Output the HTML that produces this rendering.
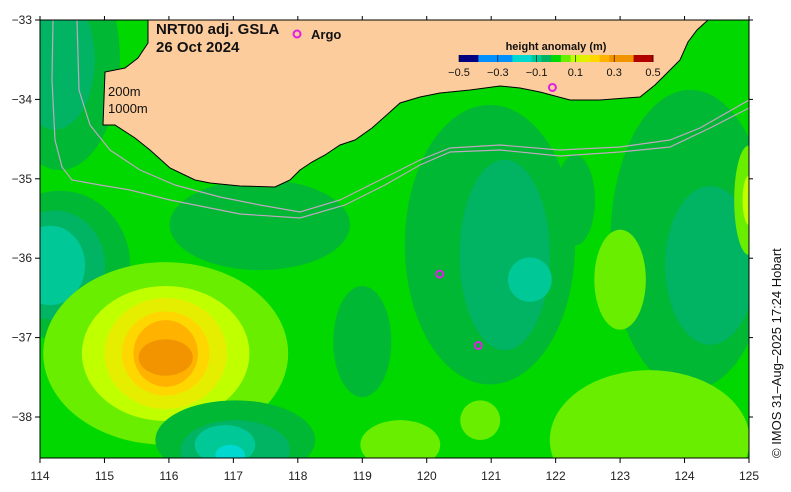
<!DOCTYPE html>
<html><head><meta charset="utf-8"><style>
body{margin:0;background:#fff;font-family:"Liberation Sans",sans-serif}
svg{display:block}
</style></head><body>
<svg id="map" width="791" height="492" viewBox="0 0 791 492">
<defs><clipPath id="clip"><rect x="40" y="20" width="709" height="438"/></clipPath></defs>
<g id="field" clip-path="url(#clip)"></g>
<g id="axes"></g>
</svg>
<script>
// data
const lonTicks=[114,115,116,117,118,119,120,121,122,123,124,125];
const latTicks=[-33,-34,-35,-36,-37,-38];
const blobLon=[114.31,114.23,117.41,114.31,114.23,114.16,120.98,122.3,121.21,121.6,124.09,124.4,125.0,125.0,123.0,123.46,120.83,119.0,119.59,115.95,115.95,115.95,115.95,115.95,115.95,117.03,117.03,116.87,116.95];
const blobLat=[-33.5,-33.5,-35.58,-36.09,-36.09,-36.09,-35.83,-35.27,-35.96,-36.27,-35.77,-36.09,-35.27,-35.27,-36.27,-38.29,-38.04,-37.05,-38.35,-37.2,-37.2,-37.2,-37.2,-37.2,-37.25,-38.29,-38.42,-38.35,-38.48];
const blobRx=[0.93,0.62,1.4,1.09,0.78,0.54,1.32,0.31,0.7,0.34,1.24,0.7,0.23,0.1,0.4,1.55,0.31,0.45,0.62,1.9,1.3,0.95,0.68,0.5,0.42,1.24,0.85,0.47,0.23];
const blobRy=[1.39,0.88,0.57,0.94,0.69,0.5,1.76,0.57,1.2,0.28,1.89,1.0,0.69,0.31,0.63,0.88,0.25,0.7,0.31,1.15,0.85,0.7,0.53,0.42,0.23,0.5,0.38,0.25,0.13];
const blobVal=[-0.025,-0.05,-0.025,-0.025,-0.05,-0.1,-0.025,-0.025,-0.05,-0.1,-0.025,-0.05,0.05,0.1,0.05,0.05,0.05,-0.025,0.05,0.05,0.1,0.15,0.2,0.25,0.3,-0.025,-0.05,-0.1,-0.15];
const argoLon=[120.2,120.8,121.95];
const argoLat=[-36.2,-37.1,-33.85];
const cbTicks=[-0.5,-0.3,-0.1,0.1,0.3,0.5];

const X0=40,X1=749,Y0=20,Y1=458;
const xS=l=>X0+(l-114)*(X1-X0)/11;
const yS=a=>Y0+(-33-a)*79.4;
const NS='http://www.w3.org/2000/svg';
function mk(t,a,p){const e=document.createElementNS(NS,t);for(const k in a)e.setAttribute(k,a[k]);p.appendChild(e);return e;}
function col(v){
 const stops=[[-0.5,'#000080'],[-0.3,'#0090ff'],[-0.15,'#00d8d0'],[-0.1,'#00c896'],[-0.05,'#00b464'],[-0.025,'#00b833'],[0,'#00d800'],[0.05,'#6aee00'],[0.1,'#c0ff00'],[0.15,'#e6ee00'],[0.2,'#ffd700'],[0.25,'#ffb300'],[0.3,'#f29400'],[0.5,'#b00000']];
 let best=stops[0];for(const s of stops){if(Math.abs(s[0]-v)<Math.abs(best[0]-v))best=s;}return best[1];}
function cbcol(v){
 const stops=[[-0.5,'#000080'],[-0.3,'#0090ff'],[-0.15,'#00d8d0'],[-0.1,'#00c896'],[-0.05,'#00b464'],[0,'#00d800'],[0.05,'#6aee00'],[0.1,'#c0ff00'],[0.15,'#e6ee00'],[0.2,'#ffd700'],[0.25,'#ffb300'],[0.3,'#f29400'],[0.5,'#b00000']];
 let best=stops[0];for(const s of stops){if(Math.abs(s[0]-v)<Math.abs(best[0]-v))best=s;}return best[1];}
const F=document.getElementById('field');
let r=mk('rect',{x:X0,y:Y0,width:X1-X0,height:Y1-Y0,fill:'#00d800'},F);

blobVal.forEach((v,i)=>{
 const e=mk('ellipse',{cx:xS(blobLon[i]),cy:yS(blobLat[i]),rx:blobRx[i]*64.45,ry:blobRy[i]*79.4,fill:col(v)},F);
 
 
});
// land
const land=mk('path',{d:'M148,20 L148,43 L138,58 L125,68 L105,72 L103,125 L115,125 L135,138 L150,150 L170,168 L195,180 L210,183 L240,186 L275,187 L290,180 L300,170 L312,162 L325,155 L340,145 L355,140 L372,128 L390,112 L400,103 L420,97 L440,93 L470,90 L500,86 L520,88 L540,92 L555,96 L570,100 L600,100 L640,97 L655,85 L665,75 L680,60 L688,42 L697,30 L708,20 Z',fill:'#fccc9c',stroke:'#000','stroke-width':1},F);

// isobaths
const iso=mk('path',{d:'M77,20 L79,90 L90,125 L110,150 L140,170 L175,185 L220,197 L260,205 L300,212 L340,200 L380,180 L420,160 L450,148 L500,145 L560,150 L620,147 L670,140 L700,128 L749,100',fill:'none',stroke:'#c0a8c0','stroke-width':1.2},F);

const iso2=mk('path',{d:'M53,20 L52,80 L55,140 L62,167 L72,180 L100,185 L130,190 L170,200 L240,214 L300,218 L345,205 L385,185 L420,165 L450,152 L500,150 L560,156 L620,152 L670,147 L710,128 L749,108',fill:'none',stroke:'#c0a8c0','stroke-width':1.2},F);

argoLon.forEach((l,i)=>{const c=mk('circle',{cx:xS(l),cy:yS(argoLat[i]),r:3.5,fill:'none',stroke:'#e020e0','stroke-width':2},F);
 });
const A=document.getElementById('axes');
let fr=mk('rect',{x:X0,y:Y0,width:X1-X0,height:Y1-Y0,fill:'none',stroke:'#000','stroke-width':1},A);

lonTicks.forEach(l=>{const x=xS(l);mk('line',{x1:x,x2:x,y1:Y1,y2:Y1+5,stroke:'#000'},A);mk('line',{x1:x,x2:x,y1:Y0,y2:Y0-4,stroke:'#000'},A);
 const t=mk('text',{x:x,y:480,'text-anchor':'middle','font-size':12,fill:'#222'},A);t.textContent=l;
 });
latTicks.forEach(a=>{const y=yS(a);mk('line',{x1:X0-5,x2:X0,y1:y,y2:y,stroke:'#000'},A);mk('line',{x1:X1,x2:X1+4,y1:y,y2:y,stroke:'#000'},A);
 const t=mk('text',{x:32,y:y+4,'text-anchor':'end','font-size':12,fill:'#222'},A);t.textContent='\u2212'+(-a);
 });
function txt(x,y,s,size,name,extra){const t=mk('text',Object.assign({x:x,y:y,'font-size':size,fill:'#111'},extra||{}),A);t.textContent=s;return t;}
txt(156,34,'NRT00 adj. GSLA',15,'title',{'font-weight':'bold'});
txt(156,52,'26 Oct 2024',15,'date-label',{'font-weight':'bold'});
const ac=mk('circle',{cx:297,cy:34,r:3.5,fill:'none',stroke:'#e020e0','stroke-width':2},A);

txt(311,39,'Argo',13,'argo-legend-label',{'font-weight':'bold'});
txt(108,96,'200m',13,'isobath-label-200');
txt(108,113,'1000m',13,'isobath-label-1000');
txt(556,50,'height anomaly (m)',11,'colorbar-title',{'text-anchor':'middle','font-weight':'bold'});
const N=40;for(let i=0;i<N;i++){const v=-0.5+(i+0.5)/N;const rr=mk('rect',{x:459+i*194/N,y:55,width:194/N+0.5,height:7,fill:cbcol(v)},A);
 }
cbTicks.forEach(v=>{const x=459+(v+0.5)*194;mk('line',{x1:x,x2:x,y1:55,y2:62,stroke:'#000','stroke-width':0.6},A);
 txt(x,76,(v<0?'\u2212':'')+Math.abs(v).toFixed(1),11,'colorbar-tick',{'text-anchor':'middle'});});
txt(0,0,'\u00a9 IMOS 31\u2013Aug\u20132025 17:24 Hobart',13,'credit',{transform:'translate(781,458) rotate(-90)'});
</script>
</body></html>
